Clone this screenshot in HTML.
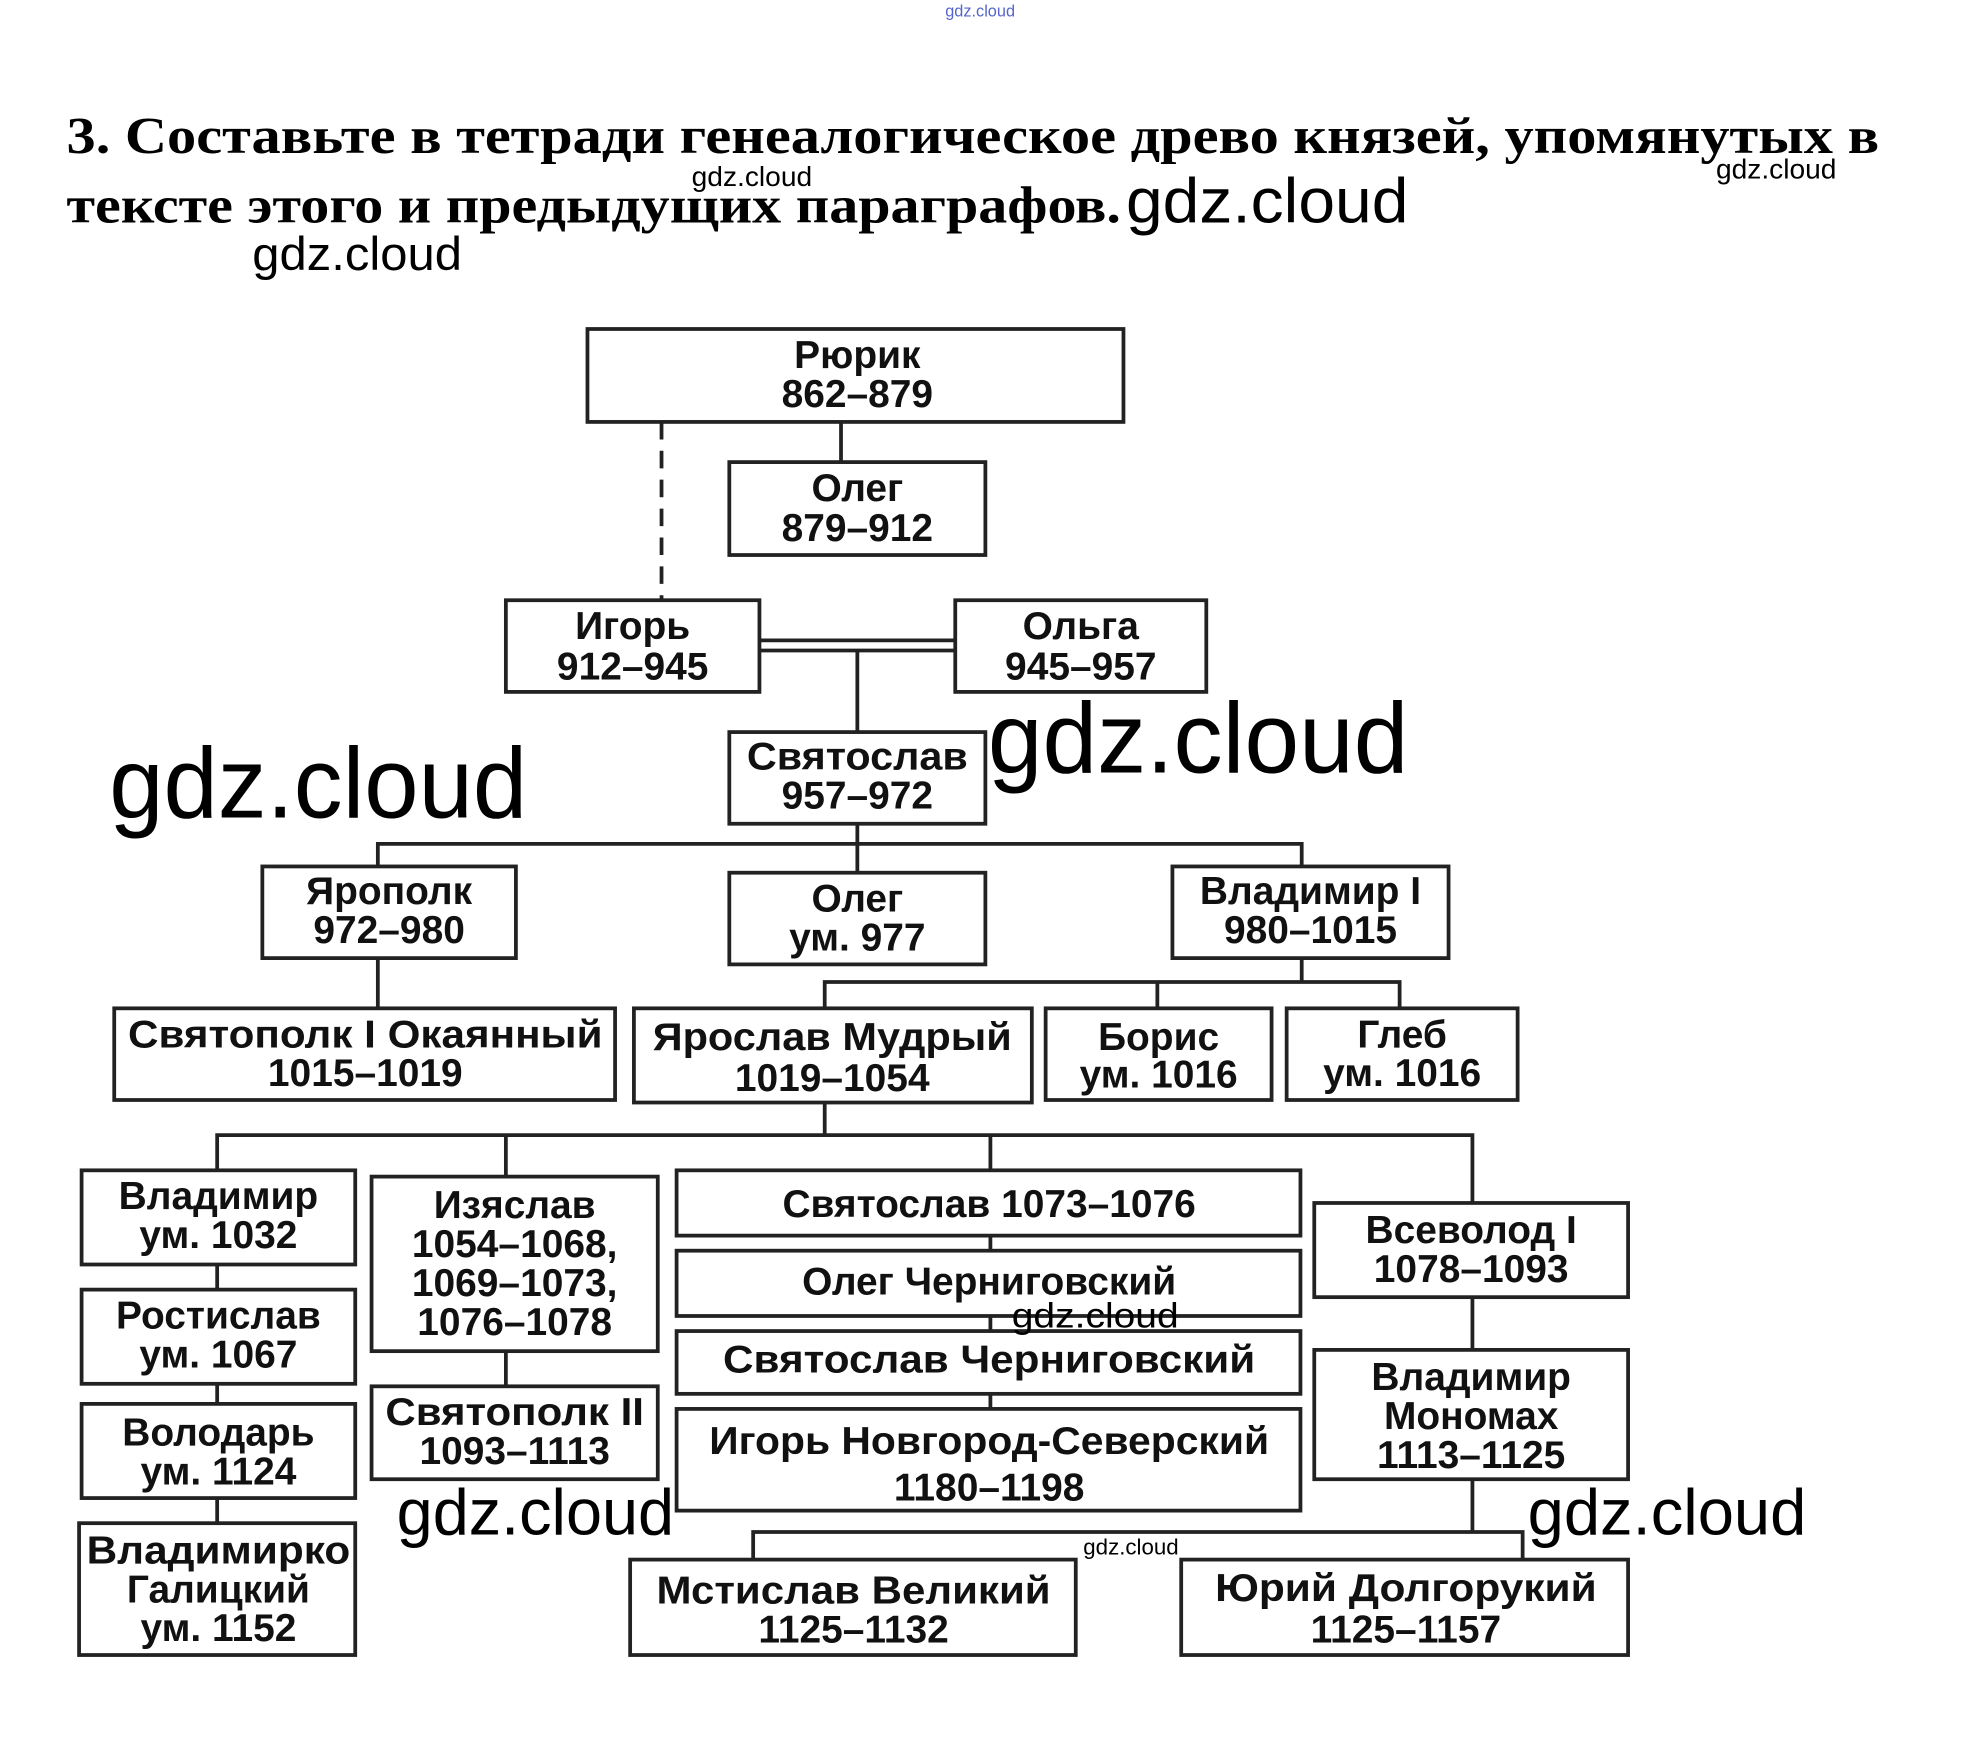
<!DOCTYPE html>
<html><head><meta charset="utf-8"><style>
html,body{margin:0;padding:0;background:#fff;width:1967px;height:1758px;overflow:hidden}
svg{display:block}
.b{fill:#fff;stroke:#222;stroke-width:3}
.l{stroke:#222;stroke-width:3;fill:none}
.t{font-family:"Liberation Sans",sans-serif;font-weight:bold;font-size:31px;fill:#111;text-anchor:middle}
.w{font-family:"Liberation Sans",sans-serif;fill:#000}
.h{font-family:"Liberation Serif",serif;font-weight:bold;font-size:41px;fill:#000}
</style></head><body>
<svg width="1967" height="1758" viewBox="0 0 1567 1400" preserveAspectRatio="none" xmlns="http://www.w3.org/2000/svg">
<text class="w" x="753" y="13" font-size="13" style="fill:#5566cc">gdz.cloud</text>
<text class="h" x="53" y="122" textLength="1444" lengthAdjust="spacingAndGlyphs">3. Составьте в тетради генеалогическое древо князей, упомянутых в</text>
<text class="h" x="53" y="177" textLength="840" lengthAdjust="spacingAndGlyphs">тексте этого и предыдущих параграфов.</text>
<text class="w" x="897" y="177" font-size="50" textLength="225" lengthAdjust="spacingAndGlyphs">gdz.cloud</text>
<text class="w" x="551" y="148" font-size="22" textLength="96" lengthAdjust="spacingAndGlyphs">gdz.cloud</text>
<text class="w" x="1367" y="142" font-size="22" textLength="96" lengthAdjust="spacingAndGlyphs">gdz.cloud</text>
<text class="w" x="201" y="215" font-size="38" textLength="167" lengthAdjust="spacingAndGlyphs">gdz.cloud</text>

<path class="l" d="M670 336V368"/>
<path class="l" d="M527 336V478" stroke-dasharray="14 9"/>
<path class="l" d="M605 510H761M605 518H761"/>
<path class="l" d="M683 518V583"/>
<path class="l" d="M683 656V672M301 690V672H1037V690M683 672V695"/>
<path class="l" d="M301 763V803"/>
<path class="l" d="M1037 763V782M657 803V782H1115V803M922 782V803"/>
<path class="l" d="M657 878V904M173 932V904H1173V958M403 904V937M789 904V932"/>
<path class="l" d="M173 1007V1027M173 1102V1118M173 1193V1213"/>
<path class="l" d="M403 1076V1104"/>
<path class="l" d="M789 984V996M789 1048V1060M789 1110V1122"/>
<path class="l" d="M1173 1033V1075M1173 1178V1220M600 1242V1220H1213V1242"/>

<rect class="b" x="468" y="262" width="427" height="74"/>
<text class="t" x="683" y="293">Рюрик</text><text class="t" x="683" y="324">862–879</text>
<rect class="b" x="581" y="368" width="204" height="74"/>
<text class="t" x="683" y="399">Олег</text><text class="t" x="683" y="431">879–912</text>
<rect class="b" x="403" y="478" width="202" height="73"/>
<text class="t" x="504" y="509">Игорь</text><text class="t" x="504" y="541">912–945</text>
<rect class="b" x="761" y="478" width="200" height="73"/>
<text class="t" x="861" y="509">Ольга</text><text class="t" x="861" y="541">945–957</text>
<rect class="b" x="581" y="583" width="204" height="73"/>
<text class="t" x="683" y="613" textLength="176" lengthAdjust="spacingAndGlyphs">Святослав</text><text class="t" x="683" y="644">957–972</text>
<rect class="b" x="209" y="690" width="202" height="73"/>
<text class="t" x="310" y="720">Ярополк</text><text class="t" x="310" y="751">972–980</text>
<rect class="b" x="581" y="695" width="204" height="73"/>
<text class="t" x="683" y="726">Олег</text><text class="t" x="683" y="757">ум. 977</text>
<rect class="b" x="934" y="690" width="220" height="73"/>
<text class="t" x="1044" y="720">Владимир I</text><text class="t" x="1044" y="751">980–1015</text>
<rect class="b" x="91" y="803" width="399" height="73"/>
<text class="t" x="291" y="834" textLength="378" lengthAdjust="spacingAndGlyphs">Святополк I Окаянный</text><text class="t" x="291" y="865">1015–1019</text>
<rect class="b" x="505" y="803" width="317" height="75"/>
<text class="t" x="663" y="836" textLength="286" lengthAdjust="spacingAndGlyphs">Ярослав Мудрый</text><text class="t" x="663" y="869">1019–1054</text>
<rect class="b" x="833" y="803" width="180" height="73"/>
<text class="t" x="923" y="836">Борис</text><text class="t" x="923" y="866">ум. 1016</text>
<rect class="b" x="1025" y="803" width="184" height="73"/>
<text class="t" x="1117" y="834">Глеб</text><text class="t" x="1117" y="865">ум. 1016</text>

<rect class="b" x="65" y="932" width="218" height="75"/>
<text class="t" x="174" y="963">Владимир</text><text class="t" x="174" y="994">ум. 1032</text>
<rect class="b" x="65" y="1027" width="218" height="75"/>
<text class="t" x="174" y="1058">Ростислав</text><text class="t" x="174" y="1089">ум. 1067</text>
<rect class="b" x="65" y="1118" width="218" height="75"/>
<text class="t" x="174" y="1151">Володарь</text><text class="t" x="174" y="1182">ум. 1124</text>
<rect class="b" x="63" y="1213" width="220" height="105"/>
<text class="t" x="174" y="1245" textLength="210" lengthAdjust="spacingAndGlyphs">Владимирко</text><text class="t" x="174" y="1276">Галицкий</text><text class="t" x="174" y="1307">ум. 1152</text>
<rect class="b" x="296" y="937" width="228" height="139"/>
<text class="t" x="410" y="970">Изяслав</text><text class="t" x="410" y="1001">1054–1068,</text><text class="t" x="410" y="1032">1069–1073,</text><text class="t" x="410" y="1063">1076–1078</text>
<rect class="b" x="296" y="1104" width="228" height="74"/>
<text class="t" x="410" y="1135" textLength="206" lengthAdjust="spacingAndGlyphs">Святополк II</text><text class="t" x="410" y="1166">1093–1113</text>
<rect class="b" x="539" y="932" width="497" height="52"/>
<text class="t" x="788" y="969">Святослав 1073–1076</text>
<rect class="b" x="539" y="996" width="497" height="52"/>
<text class="t" x="788" y="1031">Олег Черниговский</text>
<rect class="b" x="539" y="1060" width="497" height="50"/>
<text class="t" x="788" y="1093" textLength="424" lengthAdjust="spacingAndGlyphs">Святослав Черниговский</text>
<rect class="b" x="539" y="1122" width="497" height="81"/>
<text class="t" x="788" y="1158" textLength="446" lengthAdjust="spacingAndGlyphs">Игорь Новгород-Северский</text><text class="t" x="788" y="1195">1180–1198</text>
<rect class="b" x="1047" y="958" width="250" height="75"/>
<text class="t" x="1172" y="990">Всеволод I</text><text class="t" x="1172" y="1021">1078–1093</text>
<rect class="b" x="1047" y="1075" width="250" height="103"/>
<text class="t" x="1172" y="1107">Владимир</text><text class="t" x="1172" y="1138">Мономах</text><text class="t" x="1172" y="1169">1113–1125</text>
<rect class="b" x="502" y="1242" width="355" height="76"/>
<text class="t" x="680" y="1277" textLength="314" lengthAdjust="spacingAndGlyphs">Мстислав Великий</text><text class="t" x="680" y="1308">1125–1132</text>
<rect class="b" x="941" y="1242" width="356" height="76"/>
<text class="t" x="1120" y="1275" textLength="304" lengthAdjust="spacingAndGlyphs">Юрий Долгорукий</text><text class="t" x="1120" y="1308">1125–1157</text>

<text class="w" x="87" y="651" font-size="80" textLength="333" lengthAdjust="spacingAndGlyphs">gdz.cloud</text>
<text class="w" x="787" y="615" font-size="80" textLength="335" lengthAdjust="spacingAndGlyphs">gdz.cloud</text>
<text class="w" x="806" y="1057" font-size="28" textLength="133" lengthAdjust="spacingAndGlyphs">gdz.cloud</text>
<text class="w" x="316" y="1222" font-size="52" textLength="221" lengthAdjust="spacingAndGlyphs">gdz.cloud</text>
<text class="w" x="1217" y="1222" font-size="52" textLength="222" lengthAdjust="spacingAndGlyphs">gdz.cloud</text>
<text class="w" x="863" y="1238" font-size="18" textLength="76" lengthAdjust="spacingAndGlyphs">gdz.cloud</text>
</svg>
</body></html>
